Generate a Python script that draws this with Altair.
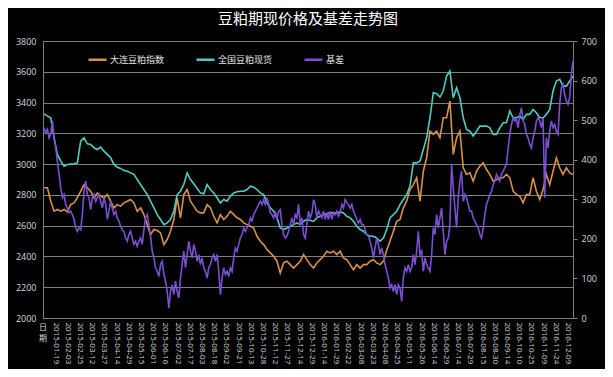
import altair as alt
import pandas as pd

# ---- axis category labels (every 11th trading day) ----
x_labels = ['', '2015-01-19', '2015-02-03', '2015-02-25', '2015-03-12', '2015-03-27',
            '2015-04-14', '2015-04-29', '2015-05-15', '2015-06-01', '2015-06-16',
            '2015-07-02', '2015-07-17', '2015-08-03', '2015-08-18', '2015-09-02',
            '2015-09-21', '2015-10-13', '2015-10-28', '2015-11-12', '2015-11-27',
            '2015-12-14', '2015-12-29', '2016-01-14', '2016-01-29', '2016-02-22',
            '2016-03-08', '2016-03-23', '2016-04-08', '2016-04-25', '2016-05-11',
            '2016-05-26', '2016-06-14', '2016-06-29', '2016-07-14', '2016-07-29',
            '2016-08-15', '2016-08-30', '2016-09-14', '2016-10-10', '2016-10-25',
            '2016-11-09', '2016-11-24', '2016-12-09']
first_category = ['日', '期']

series_names = ['大连豆粕指数', '全国豆粕现货', '基差']
series_colors = ['#D6924A', '#4FCDC3', '#7A4FD2']

# ---- trading-day positions of the sampled values ----
day_idx = list(range(1, 479, 3))             # futures / spot samples
basis_idx = [1 + 1.5 * k for k in range(319)]  # basis samples

# 大连豆粕指数 (left axis)
futures = [2846, 2846, 2759, 2694, 2705, 2694, 2705, 2690, 2737, 2748,
           2781, 2824, 2867, 2846, 2824, 2781, 2813, 2792, 2781, 2802,
           2759, 2716, 2737, 2727, 2748, 2759, 2770, 2748, 2694, 2716,
           2672, 2607, 2542, 2575, 2568, 2553, 2477, 2510, 2564, 2640,
           2781, 2651, 2802, 2835, 2759, 2727, 2694, 2683, 2683, 2737,
           2716, 2661, 2618,
           2672, 2640, 2661, 2694, 2672, 2651, 2640, 2618, 2607, 2596,
           2585, 2531, 2499, 2477, 2445, 2423, 2401, 2369, 2293, 2358,
           2369, 2347, 2325, 2347, 2369, 2412, 2379, 2347, 2325, 2358,
           2379, 2401, 2434, 2423, 2434, 2412, 2434, 2390, 2379, 2347,
           2314, 2347, 2325, 2347, 2347, 2369, 2379, 2358, 2347, 2369,
           2440, 2500,
           2564, 2629, 2640, 2716, 2759, 2835, 2867, 2911, 2759, 2954,
           3041, 3214, 3193, 3214, 3171, 3301, 3301, 3410, 3063, 3171,
           3214, 2976, 2933, 2943, 2889, 2954, 2987, 3008, 2965, 2933,
           2889, 2900, 2911, 2911, 2933, 2911, 2824, 2802, 2792, 2748,
           2802, 2802, 2911, 2824, 2770, 2835, 2933, 2867, 2954, 3041,
           2976, 2933, 2976, 2943, 2933]

# 全国豆粕现货 (left axis)
spot = [3327, 3312, 3301, 3171, 3063, 3019, 2987, 2998, 3000, 3002,
        3008, 3149, 3171, 3132, 3128, 3106, 3095, 3110, 3084, 3063,
        3041, 2998, 2980, 2972, 2958, 2954, 2943, 2933, 2900, 2867,
        2835, 2802, 2759, 2716, 2672, 2640, 2607, 2618, 2640, 2694,
        2802, 2824, 2867, 2943, 2900, 2872, 2841, 2813, 2807, 2867,
        2835, 2813, 2781,
        2748, 2770, 2759, 2792, 2813, 2820, 2824, 2824, 2835, 2857,
        2850, 2835, 2813, 2802, 2748, 2716, 2694, 2651, 2585, 2575,
        2585, 2596, 2607, 2618, 2607, 2629, 2640, 2633, 2629, 2651,
        2661, 2672, 2677, 2683, 2683, 2683, 2690, 2683, 2661, 2651,
        2629, 2596, 2575, 2564, 2542, 2531, 2531, 2520, 2499, 2520,
        2575, 2651,
        2672, 2694, 2737, 2770, 2802, 2857, 3008, 3008, 3019, 3095,
        3171, 3301, 3464, 3457, 3436, 3475, 3572, 3605, 3431, 3496,
        3431, 3301, 3225, 3214, 3182, 3214, 3247, 3247, 3247, 3236,
        3193, 3193, 3236, 3269, 3269, 3345, 3301, 3301, 3312, 3290,
        3323, 3323, 3355, 3334, 3301, 3301, 3323, 3355, 3475, 3540,
        3551, 3507, 3507, 3540, 3572]

# 基差 (right axis)
basis = [481, 468, 477, 455, 464, 498, 455, 430, 396, 363,
         329, 304, 312, 287, 278, 266, 270, 261, 249, 228,
         219, 228, 223, 261, 320, 346, 312, 304, 274, 304,
         312, 295, 304, 312, 295, 278, 304, 287, 249, 270,
         295, 278, 261, 270, 253, 245, 232, 223, 219, 202,
         194, 211, 219, 202, 186, 194, 181, 194, 202, 186,
         223, 253, 261, 236, 207, 169, 152, 127, 118, 105,
         135, 143, 110, 93, 67, 25, 67, 84, 59, 93,
         67, 51, 101, 135, 169, 127, 160, 194, 169, 152,
         186, 169, 143, 160, 135, 152, 127, 118, 101, 127,
         135, 152, 160, 143, 160, 118,
         59, 101, 127, 110, 118, 105, 127, 118, 152, 177,
         169, 186, 202, 211, 228, 219, 228, 236, 253, 245,
         261, 270, 278, 287, 295, 287, 299, 287, 304, 287,
         266, 261, 253, 270, 249, 270, 274, 236, 211, 202,
         207, 219, 236, 253, 236, 261, 253, 287, 236, 253,
         211, 202, 236, 270, 253, 266, 299, 287, 253, 270,
         261, 253, 270, 249, 266, 249, 270, 249, 266, 261,
         270, 257, 266, 287, 278, 299, 291, 287, 278, 287,
         270, 261, 249, 240, 249, 236, 236, 223, 211, 207,
         194, 177, 152, 177, 202, 186, 160, 177, 160, 135,
         118, 101, 76, 84,
         67, 84, 59, 84, 76, 42, 101, 127, 118, 135,
         118, 127, 160, 135, 169, 219, 160, 169, 118, 152,
         135, 127, 118, 160, 228, 211, 261, 228, 253, 278,
         219, 160, 194, 202, 236, 388, 329, 278, 228, 304,
         346, 371, 295, 312, 304, 287, 270, 270, 253, 245,
         236, 228, 211, 202, 228, 261, 287, 299, 312, 320,
         337, 346, 363, 354, 346, 363, 371, 380, 388, 430,
         464, 489, 506, 498, 502, 481, 514, 531, 498, 489,
         464, 455, 439, 430, 455, 472, 498, 506, 498, 481,
         506, 304, 455, 430, 472, 498, 481, 489, 472, 464,
         540, 582, 590, 565, 548, 540, 557, 616, 649]

left_ticks = list(range(2000, 3801, 200))
right_ticks = list(range(0, 701, 100))
x_ticks = list(range(11, 474, 11))

# ---- tables ----
df_left = pd.DataFrame({
    'idx': day_idx + day_idx,
    'value': futures + spot,
    'series': [series_names[0]] * len(futures) + [series_names[1]] * len(spot),
})
df_right = pd.DataFrame({'idx': basis_idx, 'value': basis, 'series': series_names[2]})
df_first = pd.DataFrame({'idx': [0], 't': [first_category]})

GRID = '#7f7f7f'
LABEL = '#d9d9d9'

label_js = '[' + ','.join("'%s'" % s for s in x_labels) + ']'
x_enc = alt.X('idx:Q',
              scale=alt.Scale(domain=[0, 478], nice=False, zero=False),
              axis=alt.Axis(values=x_ticks,
                            labelExpr=label_js + '[round(datum.value / 11)]',
                            labelAngle=90, grid=False, ticks=False,
                            domainColor=GRID, labelColor=LABEL, labelFontSize=8,
                            labelFont='Open Sans', labelPadding=4,
                            labelOverlap=False, title=None))

color_enc = alt.Color('series:N',
                      scale=alt.Scale(domain=series_names, range=series_colors),
                      legend=alt.Legend(title=None, orient='none', legendX=44, legendY=8,
                                        direction='horizontal', symbolType='stroke',
                                        symbolStrokeWidth=2.5, symbolSize=324,
                                        labelColor='#e6e6e6', labelFontSize=9,
                                        labelFont='Noto Sans CJK SC', labelOffset=2,
                                        columnPadding=26, padding=0))

left = alt.Chart(df_left).mark_line(strokeWidth=1.6).encode(
    x=x_enc,
    y=alt.Y('value:Q',
            scale=alt.Scale(domain=[2000, 3800], nice=False, zero=False),
            axis=alt.Axis(values=left_ticks, orient='left', format='d', grid=True,
                          gridColor=GRID, gridWidth=1, ticks=False, domainColor=GRID,
                          labelColor=LABEL, labelFontSize=9, labelFont='Open Sans',
                          labelPadding=7, title=None)),
    color=color_enc,
)

first_label = alt.Chart(df_first).mark_text(
    color=LABEL, fontSize=8, font='Noto Sans CJK SC', baseline='top',
    align='center', lineHeight=11
).encode(x=x_enc, y=alt.value(283), text='t')

right = alt.Chart(df_right).mark_line(strokeWidth=1.6).encode(
    x=x_enc,
    y=alt.Y('value:Q',
            scale=alt.Scale(domain=[0, 700], nice=False),
            axis=alt.Axis(values=right_ticks, orient='right', format='d', grid=False,
                          ticks=True, tickSize=4, tickColor=GRID, domainColor=GRID,
                          labelColor=LABEL, labelFontSize=9, labelFont='Open Sans',
                          labelPadding=4, title=None)),
    color=color_enc,
)

chart = alt.layer(left, first_label, right).resolve_scale(y='independent').properties(
    width=530, height=277,
    title=alt.Title('豆粕期现价格及基差走势图', color='#ffffff', fontSize=15,
                    font='Noto Sans CJK SC', fontWeight='normal', anchor='middle',
                    offset=10),
    padding={'left': 35, 'top': 33, 'right': 32, 'bottom': 51},
    autosize=alt.AutoSizeParams(type='none'),
    background='#000000',
).configure_view(stroke=None)

chart.save("out.html", embed_options={"renderer": "svg", "actions": False})
